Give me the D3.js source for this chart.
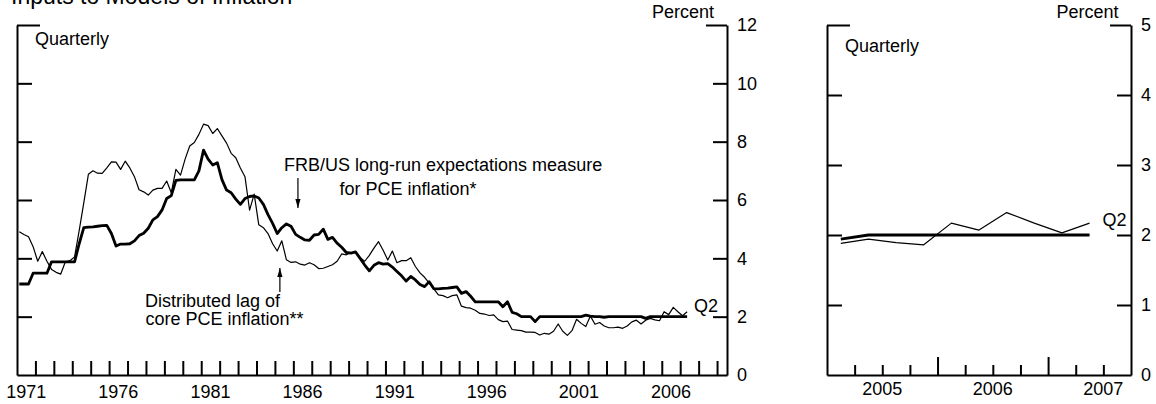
<!DOCTYPE html>
<html><head><meta charset="utf-8">
<script src="https://cdn.jsdelivr.net/npm/d3@7"></script>
<style>
body{margin:0;background:#fff;}
svg text{font-family:"Liberation Sans", Arial, Helvetica, sans-serif; fill:#000;}
</style></head><body>
<svg id="chart" width="1156" height="404"></svg>
<script>
// ---------- data ----------
const title = "Inputs to Models of Inflation";
const startYear = 1971; // first quarter of the series is 1971 Q1
// FRB/US long-run expectations measure for PCE inflation (quarterly, percent)
const frbus = [
  3.12, 3.12, 3.12, 3.49,  3.49, 3.49, 3.49, 3.88,  3.88, 3.88, 3.88, 3.88,
  3.88, 4.50, 5.05, 5.07,  5.08, 5.10, 5.12, 5.13,  4.85, 4.42, 4.49, 4.49,
  4.50, 4.60, 4.78, 4.86,  5.03, 5.32, 5.43, 5.66,  6.05, 6.15, 6.67, 6.69,
  6.69, 6.69, 6.69, 7.00,  7.71, 7.40, 7.20, 7.28,  6.70, 6.34, 6.25, 6.03,
  5.85, 6.05, 6.12, 6.14,  6.07, 5.85, 5.50, 5.20,  4.85, 5.05, 5.18, 5.10,
  4.82, 4.72, 4.63, 4.62,  4.80, 4.82, 5.00, 4.65,  4.72, 4.52, 4.38, 4.20,
  4.18, 4.22, 4.00, 3.77,  3.57, 3.76, 3.85, 3.80,  3.82, 3.70, 3.55, 3.40,
  3.22, 3.38, 3.26, 3.10,  3.03, 3.20, 2.96, 2.95,  2.97, 2.98, 3.00, 3.02,
  2.80, 2.86, 2.70, 2.51,  2.51, 2.51, 2.51, 2.51,  2.51, 2.34, 2.51, 2.15,
  2.10, 2.00, 2.00, 2.00,  1.83, 2.00, 2.00, 2.00,  2.00, 2.00, 2.00, 2.00,
  2.00, 2.00, 2.00, 2.05,  2.02, 2.00, 2.00, 1.98,  2.00, 2.00, 2.00, 2.00,
  2.00, 2.00, 2.00, 2.00,  1.94, 2.00, 2.00, 2.00,  2.00, 2.00, 2.00, 2.00,
  2.00, 2.00
];
// Distributed lag of core PCE inflation (quarterly, percent)
const lagCore = [
  4.91, 4.82, 4.74, 4.40,  3.90, 4.23, 3.90, 3.62,  3.52, 3.46, 3.88, 3.92,
  4.05, 4.95, 5.90, 6.88,  7.00, 6.92, 6.91, 7.10,  7.31, 7.30, 7.05, 7.33,
  7.10, 6.80, 6.35, 6.28,  6.17, 6.34, 6.40, 6.40,  6.65, 6.25, 7.05, 6.85,
  7.40, 7.85, 7.97, 8.25,  8.60, 8.55, 8.28, 8.45,  8.20, 7.95, 7.60, 7.45,
  7.10, 6.80, 5.65, 6.20,  5.15, 5.05, 4.85, 4.50,  4.25, 4.60, 3.95, 3.86,
  3.88, 3.80, 3.77, 3.85,  3.78, 3.65, 3.66, 3.72,  3.78, 3.90, 4.15, 4.12,
  4.20, 4.20, 4.02, 3.90,  4.10, 4.35, 4.57, 4.28,  3.94, 4.25, 3.85, 3.92,
  3.92, 4.02, 3.72, 3.50,  3.35, 3.15, 2.95, 2.75,  2.72, 2.65, 2.72, 2.75,
  2.36, 2.31, 2.29, 2.22,  2.11, 2.09, 2.04, 2.06,  1.90, 1.83, 1.85, 1.56,
  1.54, 1.52, 1.47, 1.47,  1.46, 1.37, 1.43, 1.40,  1.50, 1.75, 1.50, 1.36,
  1.52, 1.91, 1.77, 1.66,  2.02, 1.74, 1.80, 1.68,  1.62, 1.62, 1.64, 1.60,
  1.68, 1.82, 1.88, 1.75,  1.88, 1.94, 1.89, 1.86,  2.17, 2.07, 2.32, 2.17,
  2.03, 2.17
];
const leftYTicks = [0, 2, 4, 6, 8, 10, 12];
const rightYTicks = [0, 1, 2, 3, 4, 5];
const leftXLabels = [1971, 1976, 1981, 1986, 1991, 1996, 2001, 2006];
const rightXLabels = [2005, 2006, 2007];
const rightPanelStart = 2005;
const lastLabel = "Q2";
const annFRB = ["FRB/US long-run expectations measure", "for PCE inflation*"];
const annLag = ["Distributed lag of", "core PCE inflation**"];
const freqLabel = "Quarterly";
const unitLabel = "Percent";

// ---------- build ----------
const svg = d3.select("#chart");
const toDate = i => startYear + (i + 0.5) / 4;
const rowsFRB = frbus.map((v, i) => ({t: toDate(i), v}));
const rowsLag = lagCore.map((v, i) => ({t: toDate(i), v}));

const FS = 18;
const AXW = 2;

// title (cut at the top edge, as in the original)
svg.append("text").attr("x", 11).attr("y", 4).attr("font-size", 23).text(title);

function panel(opts) {
  const {x, y, yTicks, xMinor, xMajor, xLabels, labelY, quarterlyY, q2} = opts;
  const g = svg.append("g");
  const [x0, x1] = x.range();
  const [y0, y1] = y.range();
  const top = y.domain()[1];

  // left axis (ticks inward, no labels)
  const la = g.append("g").attr("transform", `translate(${x0},0)`)
    .call(d3.axisLeft(y).tickValues(yTicks.filter(d => d > 0)).tickSize(-15).tickSizeOuter(0).tickFormat(""));
  la.selectAll(".tick line").filter(d => d === top).attr("x2", 23);

  // right axis (ticks inward, labels outside)
  const ra = g.append("g").attr("transform", `translate(${x1},0)`)
    .call(d3.axisRight(y).tickValues(yTicks).tickSize(-14).tickSizeOuter(0).tickPadding(10).tickFormat(d3.format("d")));
  ra.selectAll(".tick line").filter(d => d === 0).remove();
  ra.selectAll(".tick line").filter(d => d === top).attr("x2", -21);

  // bottom axis
  g.append("g").attr("transform", `translate(0,${y0})`)
    .call(d3.axisBottom(x).tickValues(xMinor).tickSize(-opts.minorLen).tickSizeOuter(0).tickFormat(""));
  if (xMajor) {
    g.append("g").attr("transform", `translate(0,${y0})`)
      .call(d3.axisBottom(x).tickValues(xMajor).tickSize(-opts.majorLen).tickSizeOuter(0).tickFormat(""))
      .select(".domain").remove();
  }
  g.selectAll(".domain, .tick line").attr("stroke", "#000").attr("stroke-width", AXW);
  g.selectAll(".tick text").attr("font-size", FS).attr("font-family", "Liberation Sans, Arial, sans-serif").attr("fill", "#000");

  // x labels centred in the year
  g.selectAll(".xl").data(xLabels).join("text")
    .attr("x", d => x(d + 0.5)).attr("y", labelY)
    .attr("text-anchor", "middle").attr("font-size", FS).text(d => d);

  // Percent + Quarterly
  g.append("text").attr("x", opts.percentX).attr("y", 18).attr("text-anchor", "middle")
    .attr("font-size", FS).text(unitLabel);
  g.append("text").attr("x", x0 + 18).attr("y", quarterlyY).attr("font-size", FS).text(freqLabel);

  const line = d3.line().x(d => x(d.t)).y(d => y(d.v));
  const lag = rowsLag.filter(d => d.t >= x.domain()[0]);
  const fr = rowsFRB.filter(d => d.t >= x.domain()[0]);
  g.append("path").datum(lag).attr("d", line).attr("fill", "none")
    .attr("stroke", "#000").attr("stroke-width", 1.2).attr("stroke-linejoin", "round");
  g.append("path").datum(fr).attr("d", line).attr("fill", "none")
    .attr("stroke", "#000").attr("stroke-width", 2.8).attr("stroke-linejoin", "round");

  g.append("text").attr("x", q2[0]).attr("y", q2[1]).attr("font-size", FS).text(lastLabel);
  return g;
}

// left panel
const xL = d3.scaleLinear().domain([1971, 2009.54]).range([17, 727]);
const yL = d3.scaleLinear().domain([0, 12]).range([375, 25]);
panel({
  x: xL, y: yL, yTicks: leftYTicks,
  xMinor: d3.range(1972, 2010), minorLen: 14,
  xLabels: leftXLabels, labelY: 398, quarterlyY: 45,
  percentX: 683, q2: [694, 312]
});

// right panel
const xR = d3.scaleLinear().domain([rightPanelStart, 2007.75]).range([827, 1131]);
const yR = d3.scaleLinear().domain([0, 5]).range([375, 25]);
panel({
  x: xR, y: yR, yTicks: rightYTicks,
  xMinor: [2005.25, 2005.5, 2005.75, 2006.25, 2006.5, 2006.75, 2007.25, 2007.5], minorLen: 10,
  xMajor: [2006, 2007], majorLen: 18,
  xLabels: rightXLabels, labelY: 395, quarterlyY: 52,
  percentX: 1087.5, q2: [1102.5, 226]
});

// annotations (left panel)
function arrow(xp, ya, yb) { // from ya to tip yb
  svg.append("line").attr("x1", xp).attr("x2", xp).attr("y1", ya).attr("y2", yb)
    .attr("stroke", "#000").attr("stroke-width", 1.2);
  const dir = yb > ya ? 1 : -1;
  svg.append("path")
    .attr("d", `M${xp - 2.6},${yb - dir * 9} L${xp},${yb} L${xp + 2.6},${yb - dir * 9} Z`)
    .attr("fill", "#000");
}
svg.append("text").attr("x", 284).attr("y", 171).attr("font-size", FS).text(annFRB[0]);
svg.append("text").attr("x", 339.5).attr("y", 195).attr("font-size", FS).text(annFRB[1]);
arrow(xL(1986.25), 178, 208);
svg.append("text").attr("x", 145).attr("y", 307).attr("font-size", FS).text(annLag[0]);
svg.append("text").attr("x", 145.5).attr("y", 325).attr("font-size", FS).text(annLag[1]);
arrow(xL(1985.27), 292, 268);
</script>
</body></html>
